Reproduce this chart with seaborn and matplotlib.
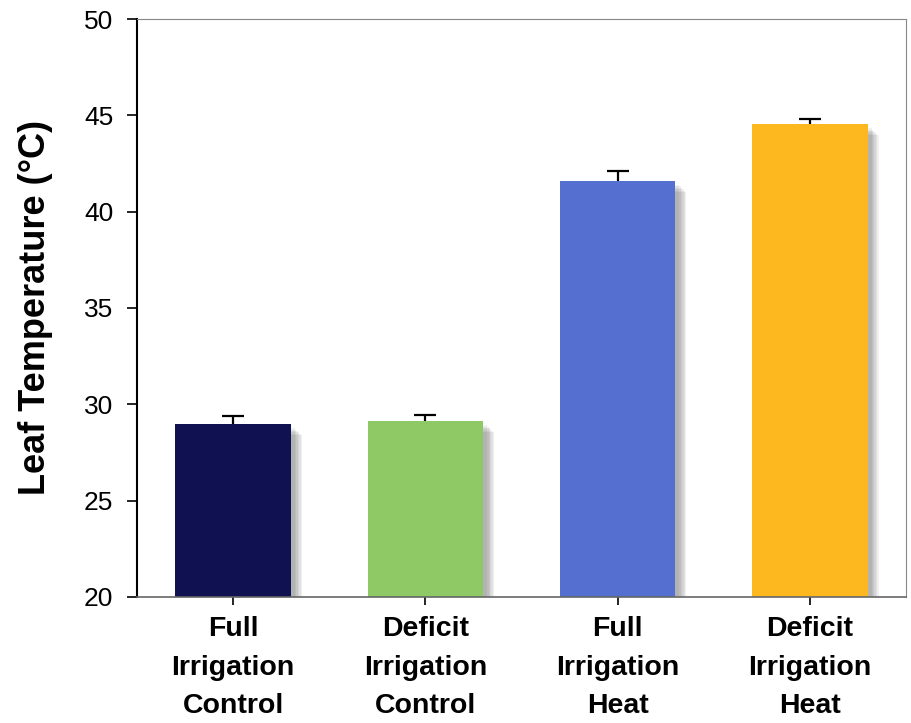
import matplotlib
matplotlib.use("Agg")
import matplotlib.pyplot as plt
import matplotlib.patheffects as pe
import seaborn as sns
import pandas as pd
import numpy as np

categories = ["Full\nIrrigation\nControl", "Deficit\nIrrigation\nControl",
              "Full\nIrrigation\nHeat", "Deficit\nIrrigation\nHeat"]
leaf_temp = [28.98, 29.13, 41.6, 44.55]
leaf_temp_err = [0.4, 0.3, 0.5, 0.25]
bar_colors = ["#0F1150", "#8FC965", "#546FCF", "#FDB71F"]
y_ticks = [20, 25, 30, 35, 40, 45, 50]

sns.set_theme(style="white")
plt.rcParams["font.family"] = ["Liberation Sans", "DejaVu Sans"]
plt.rcParams.update({"text.color": "black", "axes.labelcolor": "black",
                     "xtick.color": "black", "ytick.color": "black"})

df = pd.DataFrame({"group": categories, "temp": leaf_temp})

fig = plt.figure(figsize=(9.11, 7.23), dpi=100)
ax = fig.add_axes([0.1504, 0.1743, 0.8441, 0.7994])

sns.barplot(data=df, x="group", y="temp", hue="group", palette=bar_colors,
            legend=False, width=0.6, ax=ax, errorbar=None, saturation=1)

# soft drop shadow: a stack of faint offset copies
shadow = [pe.SimplePatchShadow(offset=(d, -d), shadow_rgbFace="#555555", alpha=0.09)
          for d in (8, 7, 6, 5, 4, 3)]
shadow.append(pe.Normal())
for patch in ax.patches:
    patch.set_path_effects(shadow)
    patch.set_linewidth(0)
    patch.set_zorder(2)

# symmetric error bars drawn behind the bars, so only the upper half shows
xpos = np.arange(len(categories))
ax.errorbar(xpos, leaf_temp, yerr=leaf_temp_err,
            fmt="none", ecolor="black", elinewidth=1.6, capsize=8, capthick=1.6,
            zorder=1.5)

ax.set_ylim(20, 50)
ax.set_xlim(-0.5, 3.5)
ax.set_yticks(y_ticks)
ax.set_yticklabels([str(t) for t in y_ticks], fontsize=19)
ax.set_xticks(xpos)
ax.set_xticklabels(categories, fontsize=20.5, fontweight="bold", linespacing=1.62)
ax.set_xlabel("")
ax.set_ylabel("Leaf Temperature (°C)", fontsize=26, fontweight="bold", labelpad=22)

ax.tick_params(axis="y", direction="out", length=7, width=1.2,
               left=True, pad=10)
ax.tick_params(axis="x", direction="out", length=6, width=1.2,
               bottom=True, pad=8)

for side in ["top", "right"]:
    ax.spines[side].set_color("#888888")
    ax.spines[side].set_linewidth(0.8)
ax.spines["bottom"].set_color("#666666")
ax.spines["bottom"].set_linewidth(1.2)
ax.spines["left"].set_color("black")
ax.spines["left"].set_linewidth(1.5)

fig.savefig("out.png", dpi=100)
